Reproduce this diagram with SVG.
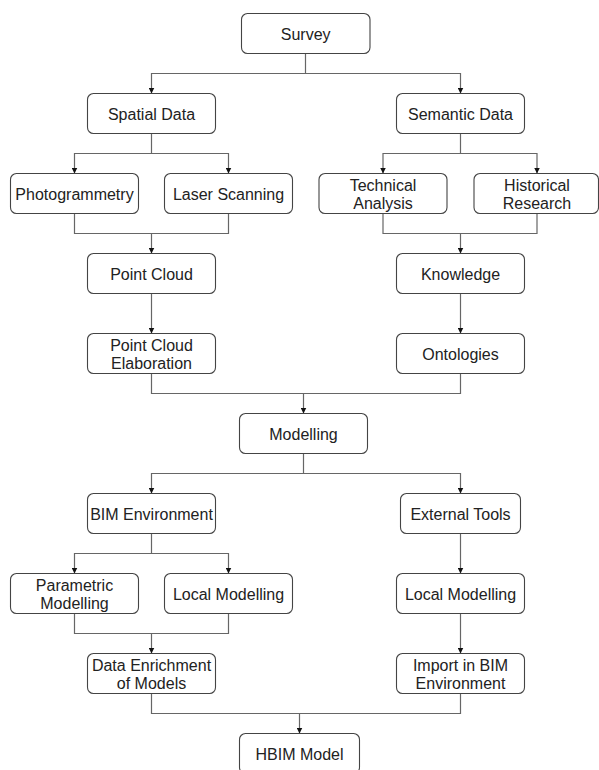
<svg xmlns="http://www.w3.org/2000/svg" width="599" height="770" viewBox="0 0 599 770">
<style>
.box{fill:#fff;stroke:#444;stroke-width:1.1}
.lbl{font-family:"Liberation Sans",Arial,sans-serif;font-size:16px;fill:#222;text-anchor:middle}
.con{fill:none;stroke:#666;stroke-width:1.2}
</style>
<defs>
<marker id="arr" markerUnits="userSpaceOnUse" viewBox="0 0 6 6" refX="6" refY="3" markerWidth="6" markerHeight="6" orient="auto">
<path d="M0,0 L6,3 L0,6 z" fill="#111"/>
</marker>
</defs>
<rect width="599" height="770" fill="#fff"/>
<g id="connectors">
<path class="con" d="M305.5 53.5 V73.5 H151.5 V93.5" marker-end="url(#arr)"/>
<path class="con" d="M305.5 73.5 H460.5 V93.5" marker-end="url(#arr)"/>
<path class="con" d="M151.5 133.5 V153.5 H74.5 V173.5" marker-end="url(#arr)"/>
<path class="con" d="M151.5 153.5 H228.5 V173.5" marker-end="url(#arr)"/>
<path class="con" d="M460.5 133.5 V153.5 H383 V173.5" marker-end="url(#arr)"/>
<path class="con" d="M460.5 153.5 H537 V173.5" marker-end="url(#arr)"/>
<path class="con" d="M74.5 213.5 V233.5 H151.5 V253.5" marker-end="url(#arr)"/>
<path class="con" d="M228.5 213.5 V233.5 H151.5"/>
<path class="con" d="M383 213.5 V233.5 H460.5 V253.5" marker-end="url(#arr)"/>
<path class="con" d="M537 213.5 V233.5 H460.5"/>
<path class="con" d="M151.5 293.5 V333.5" marker-end="url(#arr)"/>
<path class="con" d="M460.5 293.5 V333.5" marker-end="url(#arr)"/>
<path class="con" d="M151.5 373.5 V393.5 H303.5 V413.5" marker-end="url(#arr)"/>
<path class="con" d="M460.5 373.5 V393.5 H303.5"/>
<path class="con" d="M303.5 453.5 V473.5 H151.5 V493.5" marker-end="url(#arr)"/>
<path class="con" d="M303.5 473.5 H460.5 V493.5" marker-end="url(#arr)"/>
<path class="con" d="M151.5 533.5 V553.5 H74.5 V573.5" marker-end="url(#arr)"/>
<path class="con" d="M151.5 553.5 H228.5 V573.5" marker-end="url(#arr)"/>
<path class="con" d="M460.5 533.5 V573.5" marker-end="url(#arr)"/>
<path class="con" d="M74.5 613.5 V633.5 H151.5 V653.5" marker-end="url(#arr)"/>
<path class="con" d="M228.5 613.5 V633.5 H151.5"/>
<path class="con" d="M460.5 613.5 V653.5" marker-end="url(#arr)"/>
<path class="con" d="M151.5 693.5 V713.5 H299.5 V733.5" marker-end="url(#arr)"/>
<path class="con" d="M460.5 693.5 V713.5 H299.5"/>
</g>
<g id="survey"><rect class="box" x="241.5" y="13.5" width="128.5" height="40" rx="6"/><text class="lbl" x="305.7" y="40">Survey</text></g>
<g id="spatial-data"><rect class="box" x="87.5" y="93.5" width="128" height="40" rx="6"/><text class="lbl" x="151.5" y="120">Spatial Data</text></g>
<g id="semantic-data"><rect class="box" x="396.5" y="93.5" width="128" height="40" rx="6"/><text class="lbl" x="460.5" y="120">Semantic Data</text></g>
<g id="photogrammetry"><rect class="box" x="10.5" y="173.5" width="128" height="40" rx="6"/><text class="lbl" x="74.5" y="200">Photogrammetry</text></g>
<g id="laser-scanning"><rect class="box" x="164.5" y="173.5" width="128" height="40" rx="6"/><text class="lbl" x="228.5" y="200">Laser Scanning</text></g>
<g id="technical-analysis"><rect class="box" x="319" y="173.5" width="128" height="40" rx="6"/><text class="lbl" x="383" y="190.5">Technical</text><text class="lbl" x="383" y="209">Analysis</text></g>
<g id="historical-research"><rect class="box" x="474" y="173.5" width="124.5" height="40" rx="6"/><text class="lbl" x="537" y="190.5">Historical</text><text class="lbl" x="537" y="209">Research</text></g>
<g id="point-cloud"><rect class="box" x="87.5" y="253.5" width="128" height="40" rx="6"/><text class="lbl" x="151.5" y="280">Point Cloud</text></g>
<g id="knowledge"><rect class="box" x="396.5" y="253.5" width="128" height="40" rx="6"/><text class="lbl" x="460.5" y="280">Knowledge</text></g>
<g id="point-cloud-elaboration"><rect class="box" x="87.5" y="333.5" width="128" height="40" rx="6"/><text class="lbl" x="151.5" y="350.5">Point Cloud</text><text class="lbl" x="151.5" y="369">Elaboration</text></g>
<g id="ontologies"><rect class="box" x="396.5" y="333.5" width="128" height="40" rx="6"/><text class="lbl" x="460.5" y="360">Ontologies</text></g>
<g id="modelling"><rect class="box" x="239.5" y="413.5" width="128" height="40" rx="6"/><text class="lbl" x="303.5" y="440">Modelling</text></g>
<g id="bim-environment"><rect class="box" x="87.5" y="493.5" width="128" height="40" rx="6"/><text class="lbl" x="151.5" y="520">BIM Environment</text></g>
<g id="external-tools"><rect class="box" x="400.5" y="493.5" width="120" height="40" rx="6"/><text class="lbl" x="460.5" y="520">External Tools</text></g>
<g id="parametric-modelling"><rect class="box" x="10.5" y="573.5" width="128" height="40" rx="6"/><text class="lbl" x="74.5" y="590.5">Parametric</text><text class="lbl" x="74.5" y="609">Modelling</text></g>
<g id="local-modelling-bim"><rect class="box" x="164.5" y="573.5" width="128" height="40" rx="6"/><text class="lbl" x="228.5" y="600">Local Modelling</text></g>
<g id="local-modelling-ext"><rect class="box" x="396.5" y="573.5" width="128" height="40" rx="6"/><text class="lbl" x="460.5" y="600">Local Modelling</text></g>
<g id="data-enrichment"><rect class="box" x="87.5" y="653.5" width="128" height="40" rx="6"/><text class="lbl" x="151.5" y="670.5">Data Enrichment</text><text class="lbl" x="151.5" y="689">of Models</text></g>
<g id="import-bim"><rect class="box" x="396.5" y="653.5" width="128" height="40" rx="6"/><text class="lbl" x="460.5" y="670.5">Import in BIM</text><text class="lbl" x="460.5" y="689">Environment</text></g>
<g id="hbim-model"><rect class="box" x="239.5" y="733.5" width="120" height="40" rx="6"/><text class="lbl" x="299.5" y="760">HBIM Model</text></g>
</svg>
